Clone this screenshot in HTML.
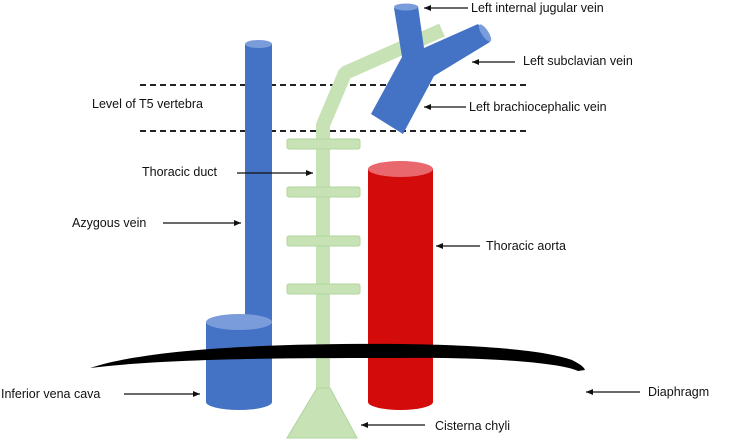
<!DOCTYPE html>
<html><head><meta charset="utf-8"><style>
html,body{margin:0;padding:0;background:#fff;}
svg{display:block;}
text{font-family:"Liberation Sans",Arial,sans-serif;font-size:12.5px;fill:#111;}
</style></head><body>
<svg width="732" height="442" viewBox="0 0 732 442" xmlns="http://www.w3.org/2000/svg">
<defs>
<marker id="ah" markerWidth="8" markerHeight="8" refX="7" refY="4" orient="auto" markerUnits="userSpaceOnUse">
<path d="M0,1 L7,4 L0,7 z" fill="#111"/></marker>
</defs>
<line x1="140" y1="85" x2="528" y2="85" stroke="#222" stroke-width="2" stroke-dasharray="6,4"/>
<line x1="140" y1="131" x2="528" y2="131" stroke="#222" stroke-width="2" stroke-dasharray="6,4"/>
<g fill="#c7e3b6" stroke="#b0d49c" stroke-width="1">
<polyline points="323,400 323,125 345,73 442,30" fill="none" stroke="#c7e3b6" stroke-width="14" stroke-linejoin="bevel"/>
<rect x="287" y="139" width="73" height="10" rx="2"/>
<rect x="287" y="187" width="73" height="10" rx="2"/>
<rect x="287" y="236" width="73" height="10" rx="2"/>
<rect x="287" y="284" width="73" height="10" rx="2"/>
<polygon points="317,388 330,388 357,438 287,438"/>
</g>
<g fill="#4472c4">
<polygon points="394,8 418,6 424,48 478,24 490,42 434,76 403,134 371,114 402,57"/>
<ellipse cx="406" cy="7" rx="12" ry="3.5" fill="#7a9cdb"/>
<ellipse cx="485" cy="33" rx="3.5" ry="10" transform="rotate(-33 485 33)" fill="#7a9cdb"/>
</g>
<rect x="245" y="44" width="27" height="290" fill="#4472c4"/>
<ellipse cx="258.5" cy="44" rx="13.5" ry="4" fill="#7a9cdb"/>
<path d="M206,322 L206,402 A33,8 0 0 0 272,402 L272,322 z" fill="#4472c4"/>
<ellipse cx="239" cy="322" rx="33" ry="8" fill="#7a9cdb"/>
<path d="M368,169 L368,402 A32.5,8 0 0 0 433,402 L433,169 z" fill="#d40b0b"/>
<ellipse cx="400.5" cy="169" rx="32.5" ry="8" fill="#e8686e"/>
<path d="M90,368 C150,348 280,343 400,344 C480,345 545,350 572,360 C580,364 584,367 585,370 L578,371 C560,362 480,357 400,358 C300,358 170,358 90,368 z" fill="#000"/>
<g stroke="#111" stroke-width="1.2" marker-end="url(#ah)">
<line x1="468" y1="8" x2="424" y2="8"/>
<line x1="515" y1="62" x2="472" y2="62"/>
<line x1="466" y1="107" x2="424" y2="107"/>
<line x1="237" y1="173" x2="313" y2="173"/>
<line x1="163" y1="223" x2="241" y2="223"/>
<line x1="480" y1="246" x2="436" y2="246"/>
<line x1="640" y1="392" x2="586" y2="392"/>
<line x1="124" y1="394" x2="200" y2="394"/>
<line x1="425" y1="425" x2="361" y2="425"/>
</g>
<text x="471" y="12">Left internal jugular vein</text>
<text x="523" y="65">Left subclavian vein</text>
<text x="469" y="111">Left brachiocephalic vein</text>
<text x="92" y="108">Level of T5 vertebra</text>
<text x="142" y="176">Thoracic duct</text>
<text x="72" y="227">Azygous vein</text>
<text x="486" y="250">Thoracic aorta</text>
<text x="648" y="396">Diaphragm</text>
<text x="1" y="398">Inferior vena cava</text>
<text x="435" y="430">Cisterna chyli</text>
</svg>
</body></html>
